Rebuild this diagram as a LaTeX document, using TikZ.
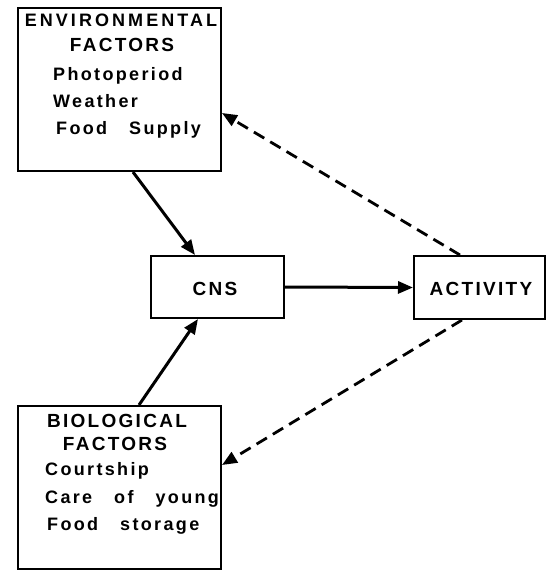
\documentclass[tikz,border=0pt]{standalone}
\usepackage{fontspec}
\newfontfamily\capfont[LetterSpace=12]{Liberation Sans Bold}
\newfontfamily\envfont[LetterSpace=17]{Liberation Sans Bold}
\newfontfamily\lowfont[LetterSpace=13,WordSpace=3]{Liberation Sans Bold}
\usetikzlibrary{arrows.meta,calc}
\tikzset{
  box/.style={draw, line width=2pt, anchor=north west, inner sep=0pt},
  captxt/.style={font=\capfont\fontsize{19}{19}\selectfont, inner sep=0pt},
  envtxt/.style={font=\envfont\fontsize{18}{18}\selectfont, inner sep=0pt},
  lowtxt/.style={font=\lowfont\fontsize{18}{18}\selectfont, inner sep=0pt},
  solidarr/.style={line width=3pt, -{Triangle[length=15pt,width=12pt]}},
  dasharr/.style={line width=2.8pt, dash pattern=on 12pt off 7pt, -{Triangle[length=15pt,width=12pt]}},
}
\begin{document}
\begin{tikzpicture}[x=1pt,y=-1pt]
\useasboundingbox (0,0) rectangle (547,571);
% boxes
\node[box, minimum width=203pt, minimum height=163pt] (env) at (17,7) {};
\node[box, minimum width=203pt, minimum height=163pt] (bio) at (17,405) {};
\node[box, minimum width=133pt, minimum height=62pt] (cns) at (150,255) {};
\node[box, minimum width=131pt, minimum height=63pt] (act) at (413,255) {};
% environmental texts
\node[envtxt, anchor=base] (e1) at (121,26) {ENVIRONMENTAL};
\node[captxt, anchor=base] (e2) at (122,51) {FACTORS};
\node[lowtxt, anchor=base west] (e3) at (53,80) {Photoperiod};
\node[lowtxt, anchor=base west] (e4) at (53,107) {Weather};
\node[lowtxt, anchor=base west] (e5) at (56,134) {Food Supply};
% biological texts
\node[captxt, anchor=base] (b1) at (117,427) {BIOLOGICAL};
\node[captxt, anchor=base] (b2) at (115,450) {FACTORS};
\node[lowtxt, anchor=base west] (b3) at (45,475) {Courtship};
\node[lowtxt, anchor=base west] (b4) at (45,503) {Care of young};
\node[lowtxt, anchor=base west] (b5) at (47,530) {Food storage};
% middle texts
\node[captxt, anchor=base] (c1) at (215,295) {CNS};
\node[captxt, anchor=base] (a1) at (481,295) {ACTIVITY};
% connectors
\draw[solidarr] ($(env.south west)+(116,0)$) -- ($(cns.north west)+(45,0)$);
\draw[solidarr] ($(bio.north west)+(122,0)$) -- ($(cns.south west)+(48,0)$);
\draw[solidarr] (cns.east) -- (act.west);
\draw[dasharr] ($(act.north west)+(47,0)$) -- ($(env.north east)+(0,106)$);
\draw[dasharr] ($(act.south west)+(49,0)$) -- ($(bio.north east)+(0,60)$);
\end{tikzpicture}
\end{document}
